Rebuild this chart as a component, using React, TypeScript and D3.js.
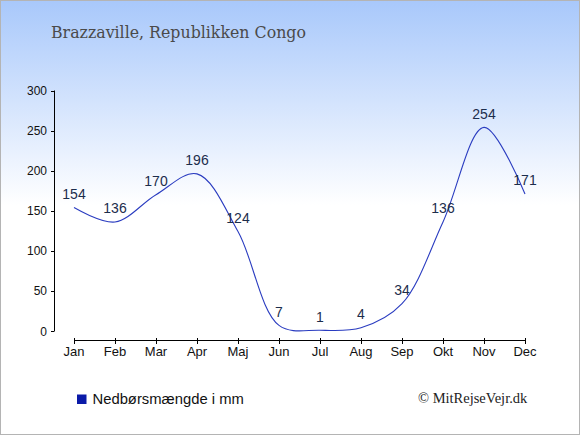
import * as d3 from "d3";

const months = ["Jan", "Feb", "Mar", "Apr", "Maj", "Jun", "Jul", "Aug", "Sep", "Okt", "Nov", "Dec"];
const rainfall = [154, 136, 170, 196, 124, 7, 1, 4, 34, 136, 254, 171];
const yTicks = [0, 50, 100, 150, 200, 250, 300];

const W = 580;
const H = 435;

export default function App() {
    const x = d3.scalePoint<string>().domain(months).range([74, 525]);
    const y = d3.scaleLinear().domain([0, 300]).range([331, 90.5]);

    const line = d3
        .line<number>()
        .x((_, i) => x(months[i])!)
        .y(d => y(d))
        .curve(d3.curveCatmullRom);

    const axisY = 341;

    return (
        <svg
            width={W}
            height={H}
            style={{ position: "absolute", left: 0, top: 0, fontFamily: "Arial, 'Liberation Sans', sans-serif" }}
        >
            <defs>
                <linearGradient id="bg" gradientUnits="userSpaceOnUse" x1="0" y1="0" x2="0" y2="205">
                    <stop offset="0" stopColor="#a8c8fb" />
                    <stop offset="1" stopColor="#ffffff" />
                </linearGradient>
            </defs>
            <rect x={0} y={0} width={W} height={H} fill="url(#bg)" />
            <rect x={0.5} y={0.5} width={W - 1} height={H - 1} fill="none" stroke="#b4b4b4" />

            {/* title */}
            <text x={51} y={38} fontFamily="'DejaVu Serif', serif" fontSize={15.8} fill="#4a4a4a">
                Brazzaville, Republikken Congo
            </text>

            {/* y axis */}
            <line x1={54.5} x2={54.5} y1={y(300)} y2={y(0)} stroke="#000" />
            {yTicks.map(t => (
                <g key={t}>
                    <line x1={51} x2={54.5} y1={Math.round(y(t)) + 0.5} y2={Math.round(y(t)) + 0.5} stroke="#000" />
                    <text x={47} y={y(t) + 4.5} textAnchor="end" fontSize={12} fill="#111">
                        {t}
                    </text>
                </g>
            ))}

            {/* x axis */}
            <line x1={x(months[0])} x2={x(months[11])} y1={axisY - 0.5} y2={axisY - 0.5} stroke="#000" />
            {months.map(m => (
                <g key={m}>
                    <line x1={Math.round(x(m)!) + 0.5} x2={Math.round(x(m)!) + 0.5} y1={axisY - 3} y2={axisY + 3} stroke="#000" />
                    <text x={x(m)} y={356} textAnchor="middle" fontSize={13} fill="#111">
                        {m}
                    </text>
                </g>
            ))}

            {/* series */}
            <path d={line(rainfall) ?? ""} fill="none" stroke="#2a3cc0" strokeWidth={1.1} />
            {rainfall.map((v, i) => (
                <text key={i} x={x(months[i])} y={y(v) - 8.5} textAnchor="middle" fontSize={14} fill="#1c2d4c">
                    {v}
                </text>
            ))}

            {/* legend */}
            <rect x={77} y={394.5} width={9.5} height={9.5} fill="#0a1aa8" />
            <text x={92.5} y={404} fontSize={14.8} fill="#111">
                Nedbørsmængde i mm
            </text>
            <text x={418} y={403} fontFamily="'Liberation Serif', serif" fontSize={14.5} fill="#222">
                © MitRejseVejr.dk
            </text>
        </svg>
    );
}
